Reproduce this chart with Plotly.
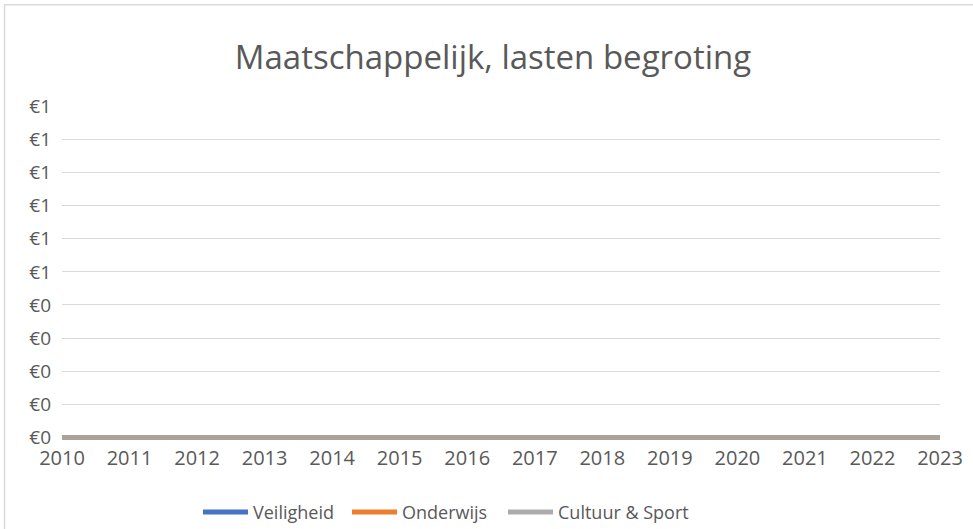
import plotly.graph_objects as go

years = list(range(2010, 2024))
veiligheid = [0] * 14
onderwijs = [0] * 14
cultuur_sport = [0] * 14
y_tickvals = [0, 0.1, 0.2, 0.3, 0.4, 0.5, 0.6, 0.7, 0.8, 0.9, 1.0]
y_ticktext = ["€0", "€0", "€0", "€0", "€0", "€1", "€1", "€1", "€1", "€1", "€1"]

W, H = 973, 529
plot_left, plot_right = 62, 940
y0_px, y1_px = 437, 106
ymin, ymax = -0.02, 1.001
ppu = (y0_px - y1_px) / 1.0
plot_bottom = y0_px + (0 - ymin) * ppu
plot_top = y0_px - ymax * ppu

L = plot_left
R = W - plot_right
T = plot_top
B = H - plot_bottom
pw = W - L - R
ph = H - T - B

def px_x(p):
    return (p - L) / pw

def px_y(p):
    return (H - B - p) / ph

font = "'Open Sans', sans-serif"
series = [("Veiligheid", veiligheid, "#4472C4", "legend", 198),
          ("Onderwijs", onderwijs, "#ED7D31", "legend2", 347),
          ("Cultuur & Sport", cultuur_sport, "rgba(165,165,165,0.92)", "legend3", 503)]

fig = go.Figure()
legends = {}
for name, vals, col, lg, lx in series:
    fig.add_trace(go.Scatter(x=years, y=vals, name=name, mode="lines", legend=lg,
                             line=dict(color=col, width=5)))
    legends[lg] = dict(orientation="h", x=px_x(lx), xanchor="left", y=px_y(512),
                       yanchor="middle", font=dict(size=18, color="#595959"),
                       itemwidth=45, bgcolor="rgba(0,0,0,0)")

fig.update_layout(
    width=W, height=H,
    margin=dict(l=L, r=R, t=T, b=B, autoexpand=False),
    paper_bgcolor="white", plot_bgcolor="white",
    font=dict(family=font, color="#595959", size=18),
    title=dict(text="Maatschappelijk, lasten begroting", x=493 / W, xanchor="center",
               y=1 - 57 / H, yanchor="middle",
               font=dict(size=33, color="#595959", family=font)),
    xaxis=dict(range=[2010, 2023], tickvals=years, ticktext=[str(y) for y in years],
               showgrid=False, zeroline=False, showline=False, ticks="",
               tickfont=dict(size=20, color="#595959")),
    yaxis=dict(range=[ymin, ymax], tickvals=y_tickvals, ticktext=y_ticktext,
               showgrid=True, gridcolor="#D9D9D9", gridwidth=1, zeroline=False,
               showline=False, ticks="", ticklabelstandoff=10,
               tickfont=dict(size=19, color="#595959")),
    showlegend=True,
    **legends,
)
fig.add_shape(type="rect", xref="paper", yref="paper",
              x0=px_x(4.5), x1=px_x(1300), y0=px_y(4.5), y1=px_y(900),
              line=dict(color="#D9D9D9", width=1.5), layer="below")

fig.write_html("out.html", config={"displayModeBar": False},
               post_script="document.body.style.margin='0';document.body.style.padding='0';")
